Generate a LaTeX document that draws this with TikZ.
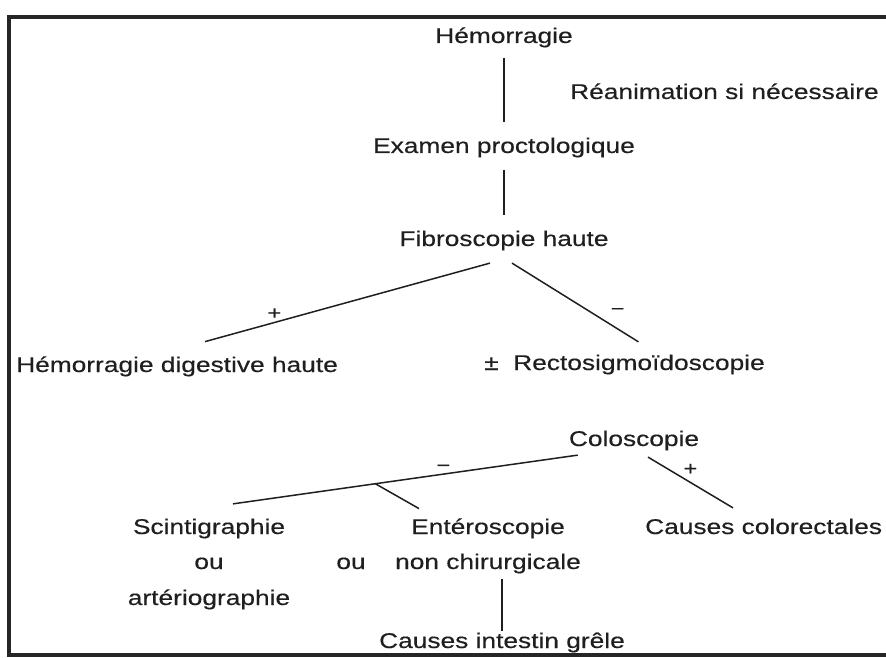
\documentclass[tikz,border=0pt]{standalone}
\usepackage{fontspec}
\setmainfont{Liberation Sans}[FakeStretch=1.235,FakeBold=0.4]
\usetikzlibrary{positioning,calc}

\begin{document}
\begin{tikzpicture}[x=1pt,y=-1pt,
    etape/.style={inner sep=0pt,anchor=base,font=\fontsize{21.3}{25}\selectfont,text=black!88},
    signe/.style={inner sep=0pt,font=\fontsize{19}{22}\selectfont,text=black!88},
    trait/.style={line width=1.5pt,black!88}]

% Cadre
\useasboundingbox (0,0) rectangle (886,658);
\clip (0,0) rectangle (886,658);
\draw[line width=4.5pt,black!85] (9,17) rectangle (920,655);

% Haut de l'arbre
\node[etape] (hem) at (504,43) {Hémorragie};
\node[etape,anchor=base west] (rea) at (570,99) {Réanimation si nécessaire};
\node[etape] (exam) at (504,153) {Examen proctologique};
\node[etape] (fibro) at (504,246) {Fibroscopie haute};
\node[etape,anchor=base west] (hdh) at (16,372) {Hémorragie digestive haute};
\node[etape,anchor=base west] (recto) at (484,370) {±\ \ Rectosigmoïdoscopie};

\draw[trait] ($(hem.south)+(0,10)$) -- ($(exam.north)+(0,-15)$);
\draw[trait] ($(exam.south)+(0,12)$) -- ($(fibro.north)+(0,-15)$);
\draw[trait] ($(fibro.south)+(-14,12.5)$) -- node[signe,pos=0.76,xshift=1pt,yshift=9pt] {+} ($(hdh.north)+(28,-14.5)$);
\draw[trait] ($(fibro.south)+(8,12.5)$) -- node[signe,pos=0.78,xshift=7pt,yshift=13pt] {−} ($(recto.north)+(14,-12.5)$);

% Coloscopie
\node[etape] (colo) at (634,446) {Coloscopie};
\node[etape] (scint) at (209,534) {Scintigraphie};
\node[etape] (ou1) at (209,569) {ou};
\node[etape] (arterio) at (209,605) {artériographie};
\node[etape] (ou2) at (351,569) {ou};
\node[etape] (entero) at (488,534) {Entéroscopie};
\node[etape] (nonchir) at (488,569) {non chirurgicale};
\node[etape,anchor=base west] (colrect) at (645,534) {Causes colorectales};
\node[etape] (grele) at (502,648) {Causes intestin grêle};

\draw[trait] ($(colo.south west)+(9,4.5)$) -- coordinate[pos=0.587] (embr) node[signe,pos=0.39,yshift=6pt] {−} ($(scint.north)+(24,-14.5)$);
\draw[trait] (embr) -- ($(entero.north west)+(8,-9.5)$);
\draw[trait] ($(colo.south)+(14,6.5)$) -- node[signe,pos=0.44,xshift=5pt,yshift=10pt] {+} ($(colrect.north west)+(88,-10.5)$);
\draw[trait] ($(grele.north |- nonchir.south)+(0,5)$) -- ($(grele.north)+(0,-1)$);

\end{tikzpicture}
\end{document}
